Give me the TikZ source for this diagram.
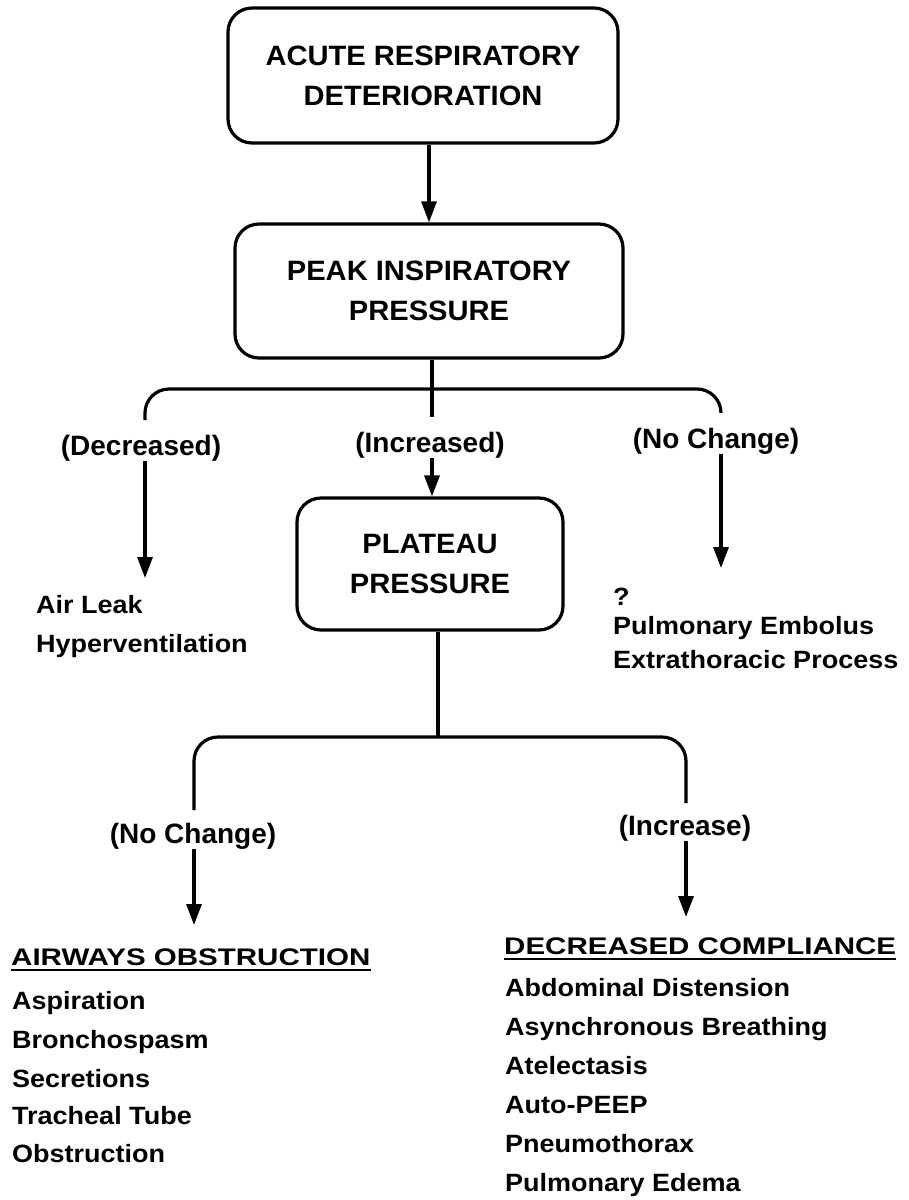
\documentclass[tikz,border=0pt]{standalone}
\usepackage{fontspec}
\usetikzlibrary{arrows.meta}
\newfontfamily\boxfont{Liberation Sans}[FakeStretch=1.04]
\newfontfamily\labfont{Liberation Sans}
\newfontfamily\itemfont{Liberation Sans}[FakeStretch=1.08]
\newfontfamily\headfont{Liberation Sans}[FakeStretch=1.23]
\tikzset{
  tbox/.style={draw, line width=3.2pt, rounded corners=24pt, align=center,
    font=\boxfont\bfseries\fontsize{28}{40}\selectfont, inner sep=0pt},
  lab/.style={font=\labfont\bfseries\fontsize{28}{34}\selectfont, inner sep=0pt, anchor=base},
  item/.style={font=\itemfont\bfseries\fontsize{25}{30}\selectfont, inner sep=0pt, anchor=base west},
  head/.style={font=\headfont\bfseries\fontsize{24}{30}\selectfont, inner sep=0pt, anchor=base west},
  conn/.style={line width=3.2pt},
  arr/.style={conn, -{Triangle[length=21pt,width=15pt]}},
  uline/.style={line width=2.6pt},
}
\begin{document}
\begin{tikzpicture}[x=1pt,y=-1pt]
\fill[white] (0,0) rectangle (909,1200);
\path[use as bounding box] (0,0) rectangle (909,1200);

% boxes
\node[tbox, minimum width=390pt, minimum height=135pt] (acute) at (423,75.5) {ACUTE RESPIRATORY\\DETERIORATION};
\node[tbox, minimum width=388pt, minimum height=134pt] (peak) at (429,291) {PEAK INSPIRATORY\\PRESSURE};
\node[tbox, minimum width=266pt, minimum height=132pt] (plat) at (430,564) {PLATEAU\\PRESSURE};

\draw[arr] (peak.north |- acute.south) -- (peak.north);

% first branching
\coordinate (j1) at (432,389);
\coordinate (b1l) at (145,389);
\coordinate (b1r) at (721,389);
\coordinate (e1l) at (145,420);
\coordinate (e1r) at (721,413);
\coordinate (c1) at (432,417);
\draw[conn] (peak.south -| j1) -- (c1);
\draw[conn, rounded corners=24pt] (e1l) -- (b1l) -- (b1r) -- (e1r);

\node[lab] (dec) at (141,455) {(Decreased)};
\node[lab] (inc) at (430,452) {(Increased)};
\node[lab] (noc) at (716,448) {(No Change)};

\coordinate (t1) at (145,578);
\coordinate (t3) at (721,568);
\draw[arr] (dec.south -| b1l) -- (t1);
\draw[arr] (inc.south -| j1) -- (plat.north -| j1);
\draw[arr] (noc.south -| b1r) -- (t3);

\node[item] (airleak) at (36,613) {Air Leak};
\node[item] (hyper) at (36,652) {Hyperventilation};

\node[item] (quest) at (613,605) {?};
\node[item] (pe) at (613,634) {Pulmonary Embolus};
\node[item] (extra) at (613,668) {Extrathoracic Process};

% second branching
\coordinate (j2) at (438,737);
\coordinate (b2l) at (194,737);
\coordinate (b2r) at (686,737);
\coordinate (e2l) at (194,810);
\coordinate (e2r) at (686,803);
\draw[conn] (plat.south -| j2) -- (j2);
\draw[conn, rounded corners=24pt] (e2l) -- (b2l) -- (b2r) -- (e2r);

\node[lab] (noc2) at (193,843) {(No Change)};
\node[lab] (incr) at (685,835) {(Increase)};

\coordinate (t4) at (194,925);
\coordinate (t5) at (686,917);
\draw[arr] (noc2.south -| b2l) -- (t4);
\draw[arr] (incr.south -| b2r) -- (t5);

% left list
\node[head] (aw) at (11,965) {AIRWAYS OBSTRUCTION};
\draw[uline] ([yshift=-5pt]aw.base west) -- ([yshift=-5pt]aw.base east);
\node[item] (l1) at (12,1009) {Aspiration};
\node[item] (l2) at (12,1048) {Bronchospasm};
\node[item] (l3) at (12,1087) {Secretions};
\node[item] (l4) at (12,1124) {Tracheal Tube};
\node[item] (l5) at (12,1162) {Obstruction};

% right list
\node[head] (dc) at (504,954) {DECREASED COMPLIANCE};
\draw[uline] ([yshift=-5pt]dc.base west) -- ([yshift=-5pt]dc.base east);
\node[item] (r1) at (505,996) {Abdominal Distension};
\node[item] (r2) at (505,1035) {Asynchronous Breathing};
\node[item] (r3) at (505,1074) {Atelectasis};
\node[item] (r4) at (505,1113) {Auto-PEEP};
\node[item] (r5) at (505,1152) {Pneumothorax};
\node[item] (r6) at (505,1191) {Pulmonary Edema};
\end{tikzpicture}
\end{document}
